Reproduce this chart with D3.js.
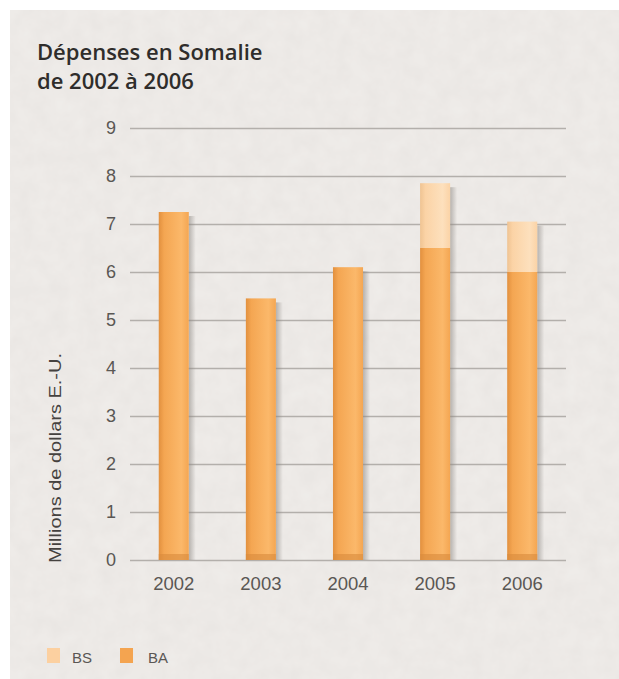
<!DOCTYPE html>
<html>
<head>
<meta charset="utf-8">
<script src="https://cdn.jsdelivr.net/npm/d3@7"></script>
<style>
  body { margin: 0; background: #fff; }
  svg { display: block; }
</style>
</head>
<body>
<div class="chart"></div>
<script>
// data
var years = ["2002", "2003", "2004", "2005", "2006"];
var baValues = [7.25, 5.45, 6.1, 6.5, 6.0];
var bsValues = [0, 0, 0, 1.35, 1.05];
var yTicks = [0, 1, 2, 3, 4, 5, 6, 7, 8, 9];
var legendKeys = ["BS", "BA"];

var width = 619, height = 679;
var margin = {top: 128, right: 53, bottom: 119, left: 130};

var svg = d3.select(".chart")
  .append("svg")
    .attr("width", width)
    .attr("height", height);

var defs = svg.append("defs");

// paper texture
var paper = defs.append("filter").attr("id", "paper")
  .attr("x", 0).attr("y", 0).attr("width", "100%").attr("height", "100%");
paper.append("feTurbulence")
  .attr("type", "fractalNoise").attr("baseFrequency", 0.06)
  .attr("numOctaves", 3).attr("seed", 4).attr("result", "noise");
paper.append("feColorMatrix")
  .attr("in", "noise").attr("type", "matrix")
  .attr("values", "0 0 0 0 0.6  0 0 0 0 0.57  0 0 0 0 0.55  0 0 0 0.22 0")
  .attr("result", "tint");
paper.append("feComposite").attr("in", "tint").attr("in2", "SourceGraphic").attr("operator", "atop");

// bar gradients (cylinder look)
function barGrad(id, dark, mid, light) {
  var g = defs.append("linearGradient").attr("id", id)
    .attr("x1", "0%").attr("x2", "100%").attr("y1", "0%").attr("y2", "0%");
  g.append("stop").attr("offset", "0%").attr("stop-color", dark);
  g.append("stop").attr("offset", "18%").attr("stop-color", mid);
  g.append("stop").attr("offset", "75%").attr("stop-color", light);
  g.append("stop").attr("offset", "100%").attr("stop-color", mid);
}
barGrad("gBA", "#e2903e", "#f4a652", "#fbb86a");
barGrad("gBS", "#efc392", "#fbd3a6", "#fde0bd");

var shadow = defs.append("linearGradient").attr("id", "gShadow")
  .attr("x1", "0%").attr("x2", "100%");
shadow.append("stop").attr("offset", "0%").attr("stop-color", "#8a8580").attr("stop-opacity", 0.55);
shadow.append("stop").attr("offset", "100%").attr("stop-color", "#8a8580").attr("stop-opacity", 0);

svg.append("rect")
  .attr("x", 10).attr("y", 10)
  .attr("width", width - 10).attr("height", height - 10)
  .attr("fill", "#f0edea")
  .attr("filter", "url(#paper)");

var x = d3.scaleBand()
  .domain(years)
  .range([margin.left, width - margin.right])
  .paddingInner(0.655)
  .paddingOuter(0.33);

var y = d3.scaleLinear()
  .domain([0, 9])
  .range([height - margin.bottom, margin.top]);

// grid lines
svg.append("g")
  .selectAll("line")
  .data(yTicks)
  .enter()
  .append("line")
    .attr("x1", margin.left)
    .attr("x2", width - margin.right)
    .attr("y1", function(d) { return y(d) + 0.5; })
    .attr("y2", function(d) { return y(d) + 0.5; })
    .attr("stroke", "#b3afab")
    .attr("stroke-width", 1.3);

// y tick labels
var yAxis = svg.append("g")
  .attr("transform", "translate(111,0)")
  .call(d3.axisLeft(y).tickValues(yTicks).tickSize(0).tickPadding(0).tickFormat(d3.format("d")));
yAxis.select(".domain").remove();
yAxis.selectAll("text")
  .attr("font-family", "Liberation Sans, Arial, sans-serif")
  .attr("font-size", 18)
  .attr("fill", "#5a5754")
  .attr("text-anchor", "middle");

// x tick labels
var xAxis = svg.append("g")
  .attr("transform", "translate(0," + (height - margin.bottom) + ")")
  .call(d3.axisBottom(x).tickSize(0).tickPadding(0));
xAxis.select(".domain").remove();
xAxis.selectAll("text")
  .attr("font-family", "Liberation Sans, Arial, sans-serif")
  .attr("font-size", 18.5)
  .attr("fill", "#5a5754")
  .attr("dy", "1.6em");

var rows = years.map(function(yr, i) {
  return {year: yr, ba: baValues[i], bs: bsValues[i]};
});

var bars = svg.append("g").selectAll(".bar")
  .data(rows)
  .enter()
  .append("g")
    .attr("class", "bar");

// soft shadow to the right of each bar
bars.append("rect")
  .attr("x", function(d) { return x(d.year) + x.bandwidth(); })
  .attr("y", function(d) { return y(d.ba + d.bs) + 4; })
  .attr("width", 7)
  .attr("height", function(d) { return y(0) - y(d.ba + d.bs) - 4; })
  .attr("fill", "url(#gShadow)");

bars.append("rect")
  .attr("x", function(d) { return x(d.year); })
  .attr("y", function(d) { return y(d.ba); })
  .attr("width", x.bandwidth())
  .attr("height", function(d) { return y(0) - y(d.ba); })
  .attr("fill", "url(#gBA)");

bars.filter(function(d) { return d.bs > 0; })
  .append("rect")
    .attr("x", function(d) { return x(d.year); })
    .attr("y", function(d) { return y(d.ba + d.bs); })
    .attr("width", x.bandwidth())
    .attr("height", function(d) { return y(d.ba) - y(d.ba + d.bs); })
    .attr("fill", "url(#gBS)");

// darker base of the cylinder
bars.append("rect")
  .attr("x", function(d) { return x(d.year); })
  .attr("y", y(0) - 6)
  .attr("width", x.bandwidth())
  .attr("height", 6)
  .attr("fill", "#d98a3c")
  .attr("opacity", 0.6);

// title
var title = svg.append("text")
  .attr("x", 37)
  .attr("y", 60)
  .attr("font-family", "Open Sans, sans-serif")
  .attr("font-weight", 600)
  .attr("font-size", 22)
  .attr("fill", "#2f2d2b");
title.append("tspan").attr("x", 37).text("Dépenses en Somalie");
title.append("tspan").attr("x", 37).attr("dy", 29).text("de 2002 à 2006");

// y axis title
svg.append("text")
  .attr("transform", "translate(61,458) rotate(-90)")
  .attr("text-anchor", "middle")
  .attr("font-family", "Liberation Sans Narrow, Arial Narrow, sans-serif")
  .attr("font-size", 17)
  .attr("textLength", 210)
  .attr("lengthAdjust", "spacingAndGlyphs")
  .attr("fill", "#45423f")
  .text("Millions de dollars E.-U.");

// legend
var legendColors = ["#fcd0a0", "#f4a450"];
var legend = svg.append("g").selectAll("g")
  .data(legendKeys)
  .enter()
  .append("g")
    .attr("transform", function(d, i) { return "translate(" + (47 + i * 73) + ",648)"; });
legend.append("rect")
  .attr("width", 13).attr("height", 15)
  .attr("fill", function(d, i) { return legendColors[i]; });
legend.append("text")
  .attr("x", function(d, i) { return i === 0 ? 25 : 28; })
  .attr("y", 15)
  .attr("font-family", "Liberation Sans Narrow, Arial Narrow, sans-serif")
  .attr("font-size", 15)
  .attr("textLength", 20)
  .attr("lengthAdjust", "spacingAndGlyphs")
  .attr("fill", "#5a5754")
  .text(function(d) { return d; });
</script>
</body>
</html>
